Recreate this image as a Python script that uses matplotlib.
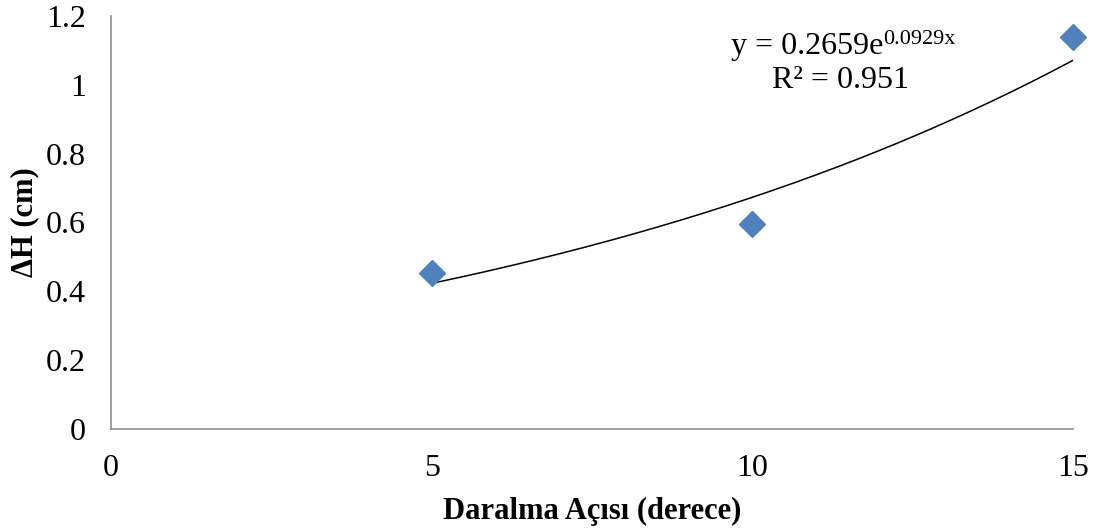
import numpy as np
import matplotlib
matplotlib.use("Agg")
import matplotlib.pyplot as plt

plt.rcParams['font.family'] = ['Liberation Serif', 'DejaVu Serif']

# ===== data =====
aci = [5, 10, 15]                  # Daralma Açısı (derece)
dH = [0.453, 0.596, 1.139]         # ΔH (cm)
x_ticks = [0, 5, 10, 15]
y_ticks = [0, 0.2, 0.4, 0.6, 0.8, 1.0, 1.2]
y_tick_labels = ['0', '0.2', '0.4', '0.6', '0.8', '1', '1.2']

# exponential trendline coefficients shown on the chart
a_coef, b_coef = 0.2659, 0.0929
r2 = 0.951

fig = plt.figure(figsize=(10.95, 5.32), dpi=100)
ax = fig.add_axes([0.1014, 0.1936, 0.8786, 0.7764])

xs = np.linspace(min(aci), max(aci), 200)
ax.plot(xs, a_coef * np.exp(b_coef * xs), color='black', lw=1.1, zorder=2)
ax.plot(aci, dH, linestyle='none', marker='D', markersize=13,
        color='#4F81BD', markeredgecolor='#4F81BD', zorder=3, clip_on=False)

ax.set_xlim(0, 15)
ax.set_ylim(0, 1.2)
ax.set_xticks(x_ticks)
ax.set_yticks(y_ticks)
ax.set_yticklabels(y_tick_labels)
ax.tick_params(length=0, labelsize=23)
ax.tick_params(axis='x', pad=18)
ax.tick_params(axis='y', pad=18)

for s in ['top', 'right']:
    ax.spines[s].set_visible(False)
for s in ['left', 'bottom']:
    ax.spines[s].set_color('#8C8C8C')
    ax.spines[s].set_linewidth(1.2)

ax.set_xlabel('Daralma Açısı (derece)', fontsize=22, fontweight='bold', labelpad=10)
ax.set_ylabel('ΔH (cm)', fontsize=22, fontweight='bold', labelpad=5)

# trendline equation: main part + superscript exponent
eq = ax.text(9.67, 1.112, 'y = %.4fe' % a_coef, fontsize=23, ha='left', va='center')
ax.annotate('%.4fx' % b_coef, xy=(1.0, 0.42), xycoords=eq, fontsize=16,
            ha='left', va='bottom')
ax.text(11.37, 1.012, 'R² = %.3f' % r2, fontsize=23, ha='center', va='center')

fig.savefig('out.png', dpi=100)
